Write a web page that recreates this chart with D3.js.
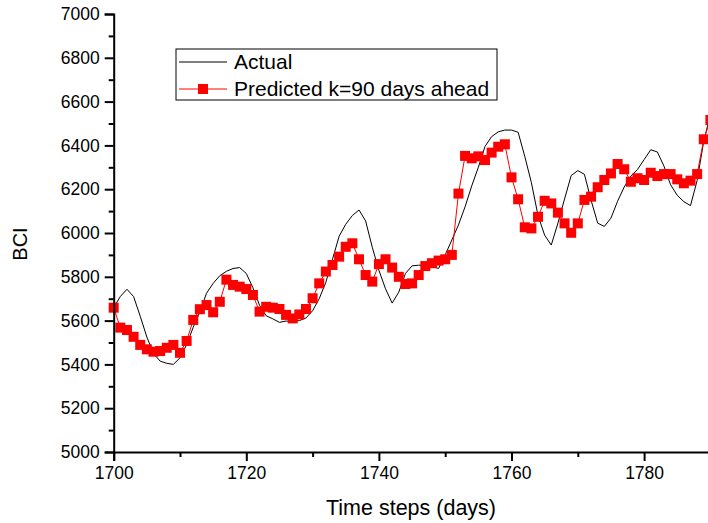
<!DOCTYPE html>
<html>
<head>
<meta charset="utf-8">
<script src="https://cdn.jsdelivr.net/npm/d3@7"></script>
<style>
  html, body { margin: 0; padding: 0; background: #fff; overflow: hidden; }
  svg { display: block; font-family: "Liberation Sans", Arial, sans-serif; }
</style>
</head>
<body>
<div id="chart"></div>
<script>
// Data
const days = d3.range(1700, 1791);

const actual = [
    5660, 5710, 5743, 5710, 5620, 5525, 5450, 5415, 5405, 5400,
    5430, 5490, 5570, 5640, 5725, 5770, 5805, 5825, 5838, 5842,
    5815, 5750, 5670, 5622, 5608, 5592, 5598, 5596, 5600, 5612,
    5645, 5700, 5775, 5880, 5985, 6040, 6080, 6105, 6055, 5935,
    5830, 5745, 5680, 5730, 5815, 5850, 5853, 5852, 5848, 5838,
    5900, 5968, 6037, 6120, 6215, 6300, 6395, 6440, 6462, 6470,
    6470, 6460, 6350, 6230, 6080, 5990, 5945, 6045, 6155, 6262,
    6285, 6268, 6150, 6045, 6030, 6068, 6145, 6210, 6260, 6290,
    6335, 6380, 6370, 6305, 6220, 6172, 6143, 6125, 6240, 6420,
    6540
];

const predicted = [
    5659, 5568, 5557, 5526, 5489, 5469, 5458, 5461, 5476, 5489,
    5453, 5507, 5603, 5652, 5671, 5638, 5686, 5787, 5763, 5755,
    5744, 5717, 5641, 5663, 5659, 5653, 5626, 5610, 5628, 5653,
    5702, 5770, 5824, 5854, 5892, 5937, 5953, 5880, 5808, 5778,
    5858, 5880, 5842, 5800, 5767, 5770, 5808, 5849, 5862, 5874,
    5880, 5900, 6180, 6352, 6341, 6350, 6333, 6367, 6394, 6405,
    6254, 6154, 6026, 6021, 6074, 6147, 6135, 6093, 6044, 6001,
    6044, 6151, 6166, 6209, 6242, 6272, 6315, 6291, 6234, 6250,
    6242, 6275, 6260, 6269, 6269, 6245, 6227, 6239, 6269, 6428,
    6516
];

const xTicks = [1700, 1720, 1740, 1760, 1780];
const xMinorTicks = [1710, 1730, 1750, 1770];
const yTicks = [5000, 5200, 5400, 5600, 5800, 6000, 6200, 6400, 6600, 6800, 7000];
const yMinorTicks = [5100, 5300, 5500, 5700, 5900, 6100, 6300, 6500, 6700, 6900];

const seriesNames = ['Actual', 'Predicted k=90 days ahead'];

const width = 708, height = 523;

const svg = d3.select('#chart')
    .append('svg')
    .attr('width', width)
    .attr('height', height);

// Scales: plot runs past the right edge of the window
const x = d3.scaleLinear().domain([1700, 1790]).range([113.7, 710.4]);
const y = d3.scaleLinear().domain([5000, 7000]).range([452, 14]);

// Actual series
const line = d3.line()
    .x((d, i) => x(days[i]))
    .y(d => y(d));

svg.append('path')
    .datum(actual)
    .attr('fill', 'none')
    .attr('stroke', '#000')
    .attr('stroke-width', 1)
    .attr('d', line);

// Predicted series
svg.append('path')
    .datum(predicted)
    .attr('fill', 'none')
    .attr('stroke', '#ff0000')
    .attr('stroke-width', 1)
    .attr('d', line);

const m = 10;
svg.append('g')
    .selectAll('rect')
    .data(predicted)
    .enter()
    .append('rect')
    .attr('x', (d, i) => x(days[i]) - m / 2)
    .attr('y', d => y(d) - m / 2)
    .attr('width', m)
    .attr('height', m)
    .attr('fill', '#ff0000');

// Axes
const xAxis = svg.append('g')
    .attr('transform', `translate(0,${y(5000)})`)
    .call(d3.axisBottom(x).tickValues(xTicks).tickSize(9).tickPadding(6).tickFormat(d3.format('d')));
xAxis.append('g')
    .call(d3.axisBottom(x).tickValues(xMinorTicks).tickSize(5).tickFormat(''));

const yAxis = svg.append('g')
    .attr('transform', `translate(${x(1700)},0)`)
    .call(d3.axisLeft(y).tickValues(yTicks).tickSize(9).tickPadding(5).tickFormat(d3.format('d')));
yAxis.append('g')
    .call(d3.axisLeft(y).tickValues(yMinorTicks).tickSize(5).tickFormat(''));

svg.selectAll('.domain').attr('stroke', '#000').attr('stroke-width', 2);
svg.selectAll('.tick line').attr('stroke', '#000').attr('stroke-width', 2);
svg.selectAll('.tick text')
    .attr('fill', '#000')
    .style('font-size', '17.5px')
    .style('font-family', '"Liberation Sans", Arial, sans-serif');
// the minor axes repeat the domain path; hide those copies
xAxis.selectAll('g > g .domain').remove();
yAxis.selectAll('g > g .domain').remove();

// Axis titles
svg.append('text')
    .attr('x', 411)
    .attr('y', 515)
    .attr('text-anchor', 'middle')
    .style('font-size', '21.5px')
    .text('Time steps (days)');

svg.append('text')
    .attr('transform', 'translate(27,244) rotate(-90)')
    .attr('text-anchor', 'middle')
    .style('font-size', '20px')
    .text('BCI');

// Legend
const legend = svg.append('g');
legend.append('rect')
    .attr('x', 176)
    .attr('y', 49)
    .attr('width', 321)
    .attr('height', 51)
    .attr('fill', '#fff')
    .attr('stroke', '#000')
    .attr('stroke-width', 1);

legend.append('line')
    .attr('x1', 179).attr('x2', 227)
    .attr('y1', 62).attr('y2', 62)
    .attr('stroke', '#000')
    .attr('stroke-width', 1);

legend.append('line')
    .attr('x1', 179).attr('x2', 227)
    .attr('y1', 89).attr('y2', 89)
    .attr('stroke', '#ff0000')
    .attr('stroke-width', 1);

legend.append('rect')
    .attr('x', 203 - m / 2)
    .attr('y', 89 - m / 2)
    .attr('width', m)
    .attr('height', m)
    .attr('fill', '#ff0000');

legend.selectAll('text.item')
    .data(seriesNames)
    .enter()
    .append('text')
    .attr('class', 'item')
    .attr('x', 234)
    .attr('y', (d, i) => 69 + i * 27)
    .style('font-size', '21px')
    .text(d => d);
</script>
</body>
</html>
